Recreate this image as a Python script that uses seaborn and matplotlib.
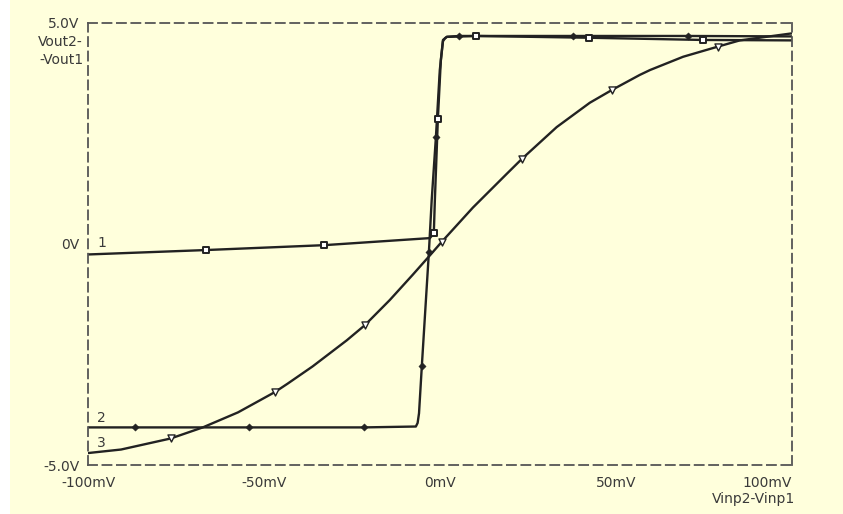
import matplotlib
matplotlib.use("Agg")
import matplotlib.pyplot as plt
import matplotlib.patches as mpatches
import seaborn as sns

# curve 1 (square markers)
c1_x = [-100, -66.5, -33.0, -2.9, -1.8, -1.5, -0.65, 0.2, 0.8, 1.9, 10.1, 42.2, 74.6, 100]
c1_y = [-0.24, -0.14, -0.03, 0.13, 0.24, 0.99, 2.82, 4.16, 4.61, 4.68, 4.70, 4.66, 4.61, 4.60]
c1_mx = [-66.5, -33.0, -1.8, -0.65, 10.1, 42.2, 74.6]
c1_my = [-0.14, -0.03, 0.24, 2.82, 4.70, 4.66, 4.61]

# curve 2 (diamond markers)
c2_x = [-100, -86.7, -54.3, -21.7, -6.9, -6.4, -6.0, -5.2, -3.2, -2.4, -1.2, -0.1, 0.8, 1.4, 1.9,
        5.3, 37.7, 70.4, 100]
c2_y = [-4.15, -4.15, -4.15, -4.15, -4.13, -4.05, -3.83, -2.76, -0.19, 0.99, 2.42, 3.93, 4.58, 4.65,
        4.68, 4.70, 4.70, 4.70, 4.69]
c2_mx = [-86.7, -54.3, -21.7, -5.2, -3.2, -1.2, 5.3, 37.7, 70.4]
c2_my = [-4.15, -4.15, -4.15, -2.76, -0.19, 2.42, 4.70, 4.70, 4.70]

# curve 3 (triangle markers)
c3_x = [-100, -90.6, -76.5, -67.4, -57.4, -46.9, -43.3, -36.2, -26.5, -21.4, -14.3, -7.8, -2.9,
        0.5, 9.3, 19.0, 23.2, 33.1, 42.5, 48.8, 56.7, 59.6, 69.0, 78.9, 85.1, 100]
c3_y = [-4.73, -4.65, -4.40, -4.15, -3.81, -3.35, -3.16, -2.77, -2.18, -1.84, -1.27, -0.70, -0.26,
        0.05, 0.82, 1.59, 1.92, 2.64, 3.19, 3.48, 3.82, 3.93, 4.23, 4.46, 4.60, 4.76]
c3_mx = [-76.5, -46.9, -21.4, 0.5, 23.2, 48.8, 78.9]
c3_my = [-4.40, -3.35, -1.84, 0.05, 1.92, 3.48, 4.46]

x_ticks = [-100, -50, 0, 50, 100]
x_labels = ["-100mV", "-50mV", "0mV", "50mV", "100mV"]
y_ticks = [-5, 0, 5]
y_labels = ["-5.0V", "0V", "5.0V"]

BG = "#FFFFDC"
INK = "#222222"
TXT = "#3a3a3a"

sns.set_style("white")
plt.rcParams["font.family"] = ["DejaVu Sans"]

fig = plt.figure(figsize=(8.43, 5.14), dpi=100, facecolor=BG)
fig.patches.append(mpatches.Rectangle((0, 0), 10 / 843, 1, transform=fig.transFigure,
                                      facecolor="white", edgecolor="none", zorder=0))
ax = fig.add_axes([88 / 843, 1 - 465 / 514, 704.3 / 843, 442.3 / 514])
ax.set_facecolor(BG)

for xs, ys in [(c1_x, c1_y), (c2_x, c2_y), (c3_x, c3_y)]:
    sns.lineplot(x=xs, y=ys, sort=False, estimator=None, color=INK, linewidth=1.7, ax=ax)

sns.scatterplot(x=c1_mx, y=c1_my, marker="s", s=22, facecolor="white", edgecolor=INK,
                linewidth=1.4, ax=ax, zorder=5)
sns.scatterplot(x=c2_mx, y=c2_my, marker="D", s=14, color=INK, edgecolor=INK, ax=ax, zorder=5)
sns.scatterplot(x=c3_mx, y=c3_my, marker="v", s=26, facecolor="white", edgecolor=INK,
                linewidth=1.0, ax=ax, zorder=5)

ax.set_xlim(-100, 100)
ax.set_ylim(-5, 5)
ax.set_xticks(x_ticks)
ax.set_xticklabels(x_labels)
ax.set_yticks(y_ticks)
ax.set_yticklabels(y_labels)
ax.get_xticklabels()[-1].set_ha("right")
ax.tick_params(direction="out", length=4, width=1, color="#555555", labelcolor=TXT,
               labelsize=10)
ax.tick_params(axis="x", pad=4)
ax.tick_params(axis="y", pad=2)
ax.set_xlabel("")
ax.set_ylabel("")

for sp in ax.spines.values():
    sp.set_visible(True)
    sp.set_color("#555555")
    sp.set_linewidth(1.3)
    sp.set_linestyle((0, (5, 3)))

# curve labels
ax.text(-97.4, 0.02, "1", fontsize=10, color=TXT, va="center")
ax.text(-97.4, -3.94, "2", fontsize=10, color=TXT, va="center")
ax.text(-97.4, -4.5, "3", fontsize=10, color=TXT, va="center")

fig.text(83 / 843, 1 - 42 / 514, "Vout2-", fontsize=10, color=TXT, ha="right", va="center")
fig.text(83 / 843, 1 - 60 / 514, "-Vout1", fontsize=10, color=TXT, ha="right", va="center")
fig.text(795 / 843, 1 - 499 / 514, "Vinp2-Vinp1", fontsize=10, color=TXT, ha="right", va="center")

fig.savefig("out.png", dpi=100, facecolor=BG)
